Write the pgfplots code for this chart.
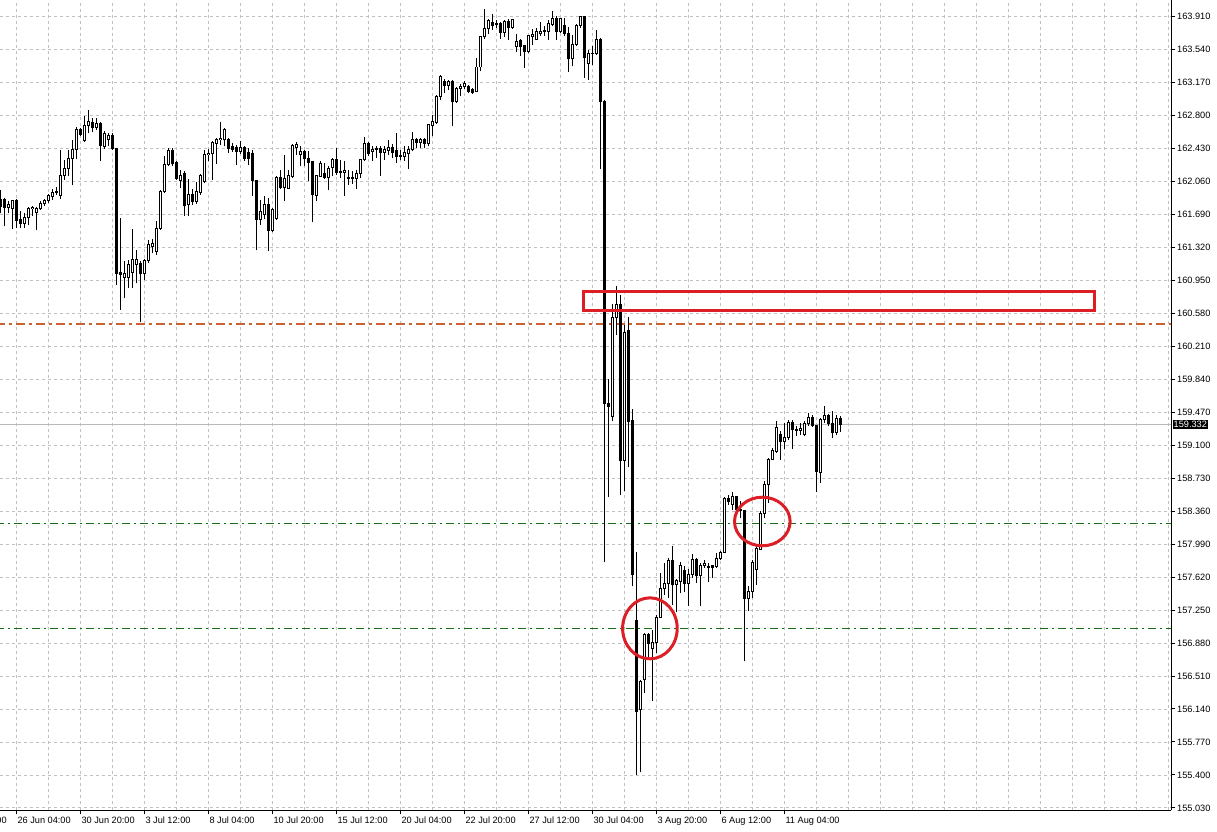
\documentclass[border=0pt]{standalone}
\usepackage{pgfplots}
\usepackage{pgfplotstable}
\pgfplotsset{compat=1.18}
\usepackage{fontspec}
\setmainfont{Liberation Sans}

\definecolor{gridgray}{RGB}{192,192,192}
\definecolor{levelorange}{RGB}{204,96,48}
\definecolor{levelgreen}{RGB}{24,110,24}
\definecolor{markred}{RGB}{220,30,38}
\definecolor{bidgray}{RGB}{185,185,185}

% H4 candles: bar index, open, high, low, close
\pgfplotstableread{
k o h l c
0 161.855 161.960 161.706 161.781
1 161.855 161.874 161.556 161.773
2 161.773 161.837 161.706 161.807
3 161.762 161.855 161.526 161.844
4 161.848 161.863 161.537 161.623
5 161.631 161.724 161.537 161.593
6 161.593 161.706 161.537 161.661
7 161.661 161.773 161.575 161.762
8 161.758 161.788 161.668 161.773
9 161.717 161.773 161.511 161.762
10 161.754 161.837 161.736 161.818
11 161.811 161.867 161.788 161.848
12 161.848 161.919 161.818 161.900
13 161.893 161.975 161.855 161.941
14 161.941 161.998 161.912 161.945
15 161.904 162.417 161.867 162.132
16 162.132 162.304 162.080 162.211
17 162.211 162.417 162.125 162.319
18 162.319 162.529 162.016 162.417
19 162.417 162.671 162.312 162.649
20 162.649 162.660 162.566 162.593
21 162.521 162.791 162.499 162.694
22 162.694 162.858 162.604 162.735
23 162.724 162.772 162.611 162.671
24 162.671 162.772 162.641 162.709
25 162.709 162.727 162.293 162.465
26 162.454 162.623 162.424 162.604
27 162.536 162.604 162.454 162.574
28 162.574 162.604 162.417 162.435
29 162.435 162.440 160.901 161.025
30 161.040 161.650 160.621 161.017
31 160.987 161.163 160.752 161.032
32 160.987 161.174 160.864 161.126
33 161.040 161.530 160.864 161.189
34 161.126 161.287 160.920 161.189
35 161.137 161.163 160.478 161.025
36 161.025 161.189 160.957 161.174
37 161.171 161.399 161.144 161.350
38 161.332 161.414 161.257 161.369
39 161.275 161.612 161.238 161.537
40 161.537 161.968 161.519 161.945
41 161.945 162.342 161.930 162.256
42 162.256 162.435 162.230 162.409
43 162.409 162.435 162.237 162.260
44 162.275 162.286 162.080 162.091
45 162.076 162.185 161.986 162.132
46 162.155 162.173 161.676 161.788
47 161.807 162.091 161.668 161.912
48 161.912 161.975 161.799 161.837
49 161.837 162.050 161.811 161.945
50 161.941 162.147 161.912 162.125
51 162.061 162.417 162.043 162.361
52 162.361 162.424 162.286 162.379
53 162.372 162.510 162.080 162.499
54 162.491 162.548 162.256 162.529
55 162.529 162.724 162.473 162.548
56 162.536 162.660 162.454 162.641
57 162.529 162.548 162.379 162.435
58 162.454 162.491 162.387 162.424
59 162.443 162.473 162.248 162.398
60 162.398 162.510 162.372 162.447
61 162.447 162.454 162.286 162.323
62 162.387 162.435 162.248 162.323
63 162.372 162.417 161.893 162.069
64 162.069 162.080 161.287 161.638
65 161.638 161.855 161.575 161.724
66 161.687 161.893 161.638 161.799
67 161.799 161.874 161.275 161.511
68 161.511 161.762 161.489 161.743
69 161.650 162.125 161.631 162.106
70 162.106 162.185 161.975 161.994
71 161.998 162.361 161.837 162.099
72 161.986 162.185 161.975 162.125
73 162.117 162.480 162.099 162.462
74 162.443 162.499 162.361 162.473
75 162.368 162.454 162.230 162.398
76 162.398 162.409 162.230 162.316
77 162.323 162.398 162.061 162.278
78 162.286 162.293 161.601 161.912
79 161.904 162.136 161.837 162.125
80 162.117 162.286 162.110 162.267
81 162.147 162.267 162.087 162.106
82 162.106 162.237 161.960 162.211
83 162.218 162.323 162.117 162.304
84 162.304 162.435 162.136 162.162
85 162.170 162.297 162.099 162.162
86 162.162 162.286 161.893 162.188
87 162.102 162.192 162.024 162.095
88 162.095 162.181 162.035 162.102
89 162.095 162.185 161.975 162.147
90 162.147 162.312 162.099 162.304
91 162.304 162.555 162.286 162.484
92 162.484 162.499 162.349 162.379
93 162.394 162.454 162.286 162.424
94 162.424 162.454 162.323 162.432
95 162.432 162.454 162.125 162.387
96 162.387 162.462 162.304 162.417
97 162.409 162.529 162.361 162.439
98 162.439 162.484 162.323 162.391
99 162.409 162.604 162.267 162.342
100 162.342 162.417 162.297 162.349
101 162.342 162.462 162.286 162.387
102 162.379 162.462 162.200 162.417
103 162.417 162.611 162.398 162.529
104 162.529 162.544 162.435 162.499
105 162.499 162.548 162.435 162.536
106 162.536 162.548 162.435 162.484
107 162.484 162.709 162.454 162.697
108 162.694 162.810 162.566 162.731
109 162.727 163.030 162.700 163.012
110 163.016 163.259 162.978 163.240
111 163.184 163.210 163.053 163.136
112 163.136 163.203 163.091 163.184
113 163.184 163.203 162.679 162.960
114 162.960 163.121 162.941 163.109
115 163.109 163.154 163.016 163.128
116 163.121 163.184 163.098 163.165
117 163.121 163.147 163.053 163.072
118 163.091 163.109 163.046 163.061
119 163.072 163.446 163.061 163.345
120 163.345 163.689 163.296 163.682
121 163.682 163.996 163.659 163.772
122 163.772 163.884 163.719 163.869
123 163.839 163.944 163.764 163.813
124 163.832 163.869 163.783 163.820
125 163.832 163.847 163.659 163.734
126 163.734 163.876 163.682 163.858
127 163.858 163.884 163.644 163.783
128 163.783 163.884 163.772 163.876
129 163.570 163.716 163.510 163.633
130 163.644 163.659 163.465 163.577
131 163.585 163.596 163.334 163.521
132 163.521 163.708 163.502 163.697
133 163.682 163.772 163.596 163.708
134 163.659 163.783 163.644 163.746
135 163.716 163.847 163.697 163.746
136 163.746 163.802 163.697 163.757
137 163.746 163.869 163.652 163.832
138 163.820 163.970 163.802 163.884
139 163.884 163.921 163.652 163.746
140 163.746 163.895 163.727 163.884
141 163.809 163.895 163.689 163.716
142 163.716 163.794 163.285 163.435
143 163.435 163.708 163.353 163.596
144 163.596 163.832 163.577 163.809
145 163.809 163.921 163.783 163.914
146 163.914 163.921 163.222 163.446
147 163.383 163.532 163.203 163.502
148 163.502 163.577 163.371 163.495
149 163.495 163.757 163.484 163.659
150 163.659 163.671 162.204 162.960
151 162.960 162.970 157.795 159.573
152 159.573 159.842 158.518 159.536
153 159.423 160.684 159.367 160.535
154 160.535 160.883 160.340 160.684
155 160.684 160.789 158.537 158.929
156 158.929 160.452 158.581 160.370
157 160.385 160.535 158.851 159.367
158 159.375 159.506 157.515 157.646
159 157.133 157.897 155.401 156.112
160 156.130 156.467 155.427 156.448
161 156.467 156.991 156.317 156.980
162 156.980 156.991 156.692 156.879
163 156.823 157.028 156.235 156.890
164 156.890 157.197 156.767 157.171
165 157.171 157.665 157.159 157.496
166 157.496 157.777 157.421 157.545
167 157.545 157.833 157.384 157.803
168 157.803 157.964 157.309 157.534
169 157.534 157.597 157.223 157.582
170 157.571 157.784 157.440 157.747
171 157.695 157.739 157.448 157.552
172 157.552 157.709 157.298 157.653
173 157.653 157.882 157.608 157.822
174 157.822 157.833 157.552 157.635
175 157.635 157.777 157.298 157.747
176 157.747 157.814 157.721 157.777
177 157.739 157.777 157.560 157.732
178 157.747 157.759 157.609 157.733
179 157.740 157.889 157.721 157.833
180 157.826 157.908 157.815 157.901
181 157.901 158.518 157.889 158.507
182 158.507 158.544 158.432 158.469
183 158.432 158.570 158.368 158.526
184 158.526 158.533 158.357 158.376
185 158.376 158.469 158.282 158.368
186 158.368 158.376 156.673 157.384
187 157.384 157.515 157.235 157.459
188 157.459 157.807 157.384 157.788
189 157.702 157.964 157.534 157.946
190 157.934 158.357 157.927 158.338
191 158.338 158.694 158.282 158.664
192 158.664 158.956 158.451 158.945
193 158.945 159.068 158.930 159.042
194 159.031 159.368 159.012 159.304
195 159.218 159.255 158.930 159.143
196 159.143 159.349 159.057 159.192
197 159.192 159.379 159.162 159.360
198 159.360 159.379 159.057 159.274
199 159.274 159.319 159.199 159.267
200 159.267 159.349 159.218 159.293
201 159.218 159.368 159.199 159.349
202 159.341 159.461 159.319 159.416
203 159.416 159.442 159.304 159.319
204 159.319 159.330 158.570 158.806
205 158.795 159.405 158.675 159.386
206 159.386 159.543 159.349 159.431
207 159.431 159.454 159.311 159.341
208 159.341 159.480 159.180 159.244
209 159.244 159.442 159.218 159.405
210 159.405 159.431 159.244 159.332
}\candles

\begin{document}
\begin{tikzpicture}[x=1pt,y=1pt]
\useasboundingbox (0,-21) rectangle (1217,810);
\begin{axis}[
  at={(0,0)}, anchor=south west,
  scale only axis, width=1171pt, height=810pt,
  xmin=-0.08, xmax=292.67,
  ymin=155.006, ymax=164.097,
  axis x line*=bottom, axis y line*=right,
  axis line style={black, line width=1pt},
  tick align=outside,
  major tick length=4pt, minor tick length=0pt,
  tick style={black, line width=1pt},
  xtick={4,20,36,52,68,84,100,116,132,148,164,180,196},
  xticklabels={26 Jun 04:00,30 Jun 20:00,3 Jul 12:00,8 Jul 04:00,10 Jul 20:00,15 Jul 12:00,20 Jul 04:00,22 Jul 20:00,27 Jul 12:00,30 Jul 04:00,3 Aug 20:00,6 Aug 12:00,11 Aug 04:00},
  minor xtick={4,12,...,292},
  xmajorgrids=false, xminorgrids=true,
  ytick={155.03,155.40,155.77,156.14,156.51,156.88,157.25,157.62,157.99,158.36,158.73,159.10,159.47,159.84,160.21,160.58,160.95,161.32,161.69,162.06,162.43,162.80,163.17,163.54,163.91},
  yticklabels={155.030,155.400,155.770,156.140,156.510,156.880,157.250,157.620,157.990,158.360,158.730,159.100,159.470,159.840,160.210,160.580,160.950,161.320,161.690,162.060,162.430,162.800,163.170,163.540,163.910},
  ymajorgrids=true,
  grid style={gridgray, line width=0.8pt, dash pattern=on 3pt off 3pt},
  minor grid style={gridgray, line width=0.8pt, dash pattern=on 3pt off 3pt},
  ticklabel style={font=\fontsize{9.2}{10}\selectfont, inner sep=0pt},
  xticklabel style={anchor=north west, xshift=1pt, yshift=-3pt},
  yticklabel style={anchor=west, xshift=2pt},
]
% level lines
\addplot[bidgray, line width=1pt, forget plot] coordinates {(-1,159.332) (294,159.332)};
\addplot[levelorange, line width=2pt, dash pattern=on 9pt off 4pt on 3pt off 4pt, forget plot] coordinates {(-1,160.461) (294,160.461)};
\addplot[levelgreen, line width=1.2pt, dash pattern=on 8pt off 4pt on 2pt off 4pt, forget plot] coordinates {(-1,158.224) (294,158.224)};
\addplot[levelgreen, line width=1.2pt, dash pattern=on 8pt off 4pt on 2pt off 4pt, forget plot] coordinates {(-1,157.046) (294,157.046)};

% wicks
\addplot[draw=none, mark=none, forget plot,
  error bars/.cd, y dir=plus, y explicit, error mark=none,
  error bar style={draw=black, solid, line width=1pt}]
  table[x=k, y=l, y error plus expr={\thisrow{h}-\thisrow{l}}] {\candles};
% bodies
\addplot[draw=none, mark=none, forget plot,
  error bars/.cd, y dir=plus, y explicit, error mark=none,
  error bar style={draw=black, solid, line width=3pt}]
  table[x=k, y expr={min(\thisrow{o},\thisrow{c})-0.0056}, y error plus expr={abs(\thisrow{c}-\thisrow{o})+0.0112}] {\candles};
% hollow interiors of rising candles
\addplot[draw=none, mark=none, forget plot,
  restrict expr to domain={\thisrow{c}-\thisrow{o}}{0.015:20},
  error bars/.cd, y dir=plus, y explicit, error mark=none,
  error bar style={draw=white, solid, line width=1pt}]
  table[x=k, y expr={\thisrow{o}+0.0056}, y error plus expr={\thisrow{c}-\thisrow{o}-0.0112}] {\candles};

% annotations
\draw[markred, line width=3pt] (axis cs:145.8,160.826) rectangle (axis cs:273.5,160.613);
\draw[markred, line width=3pt] (axis cs:162.4,157.045) ellipse [x radius=27.3pt, y radius=30.5pt];
\draw[markred, line width=3pt] (axis cs:190.5,158.244) ellipse [x radius=27.8pt, y radius=24.3pt];
\coordinate (bid) at (axis cs:292.67,159.332);
\end{axis}
\node[anchor=west, fill=black, text=white, inner sep=1pt, font=\fontsize{9.2}{10}\selectfont] at ([xshift=1.5pt]bid) {159.332};
\node[anchor=north west, inner sep=0pt, font=\fontsize{9.2}{10}\selectfont] at (-46.7,-7) {21 Jun 12:00};
\end{tikzpicture}
\end{document}
